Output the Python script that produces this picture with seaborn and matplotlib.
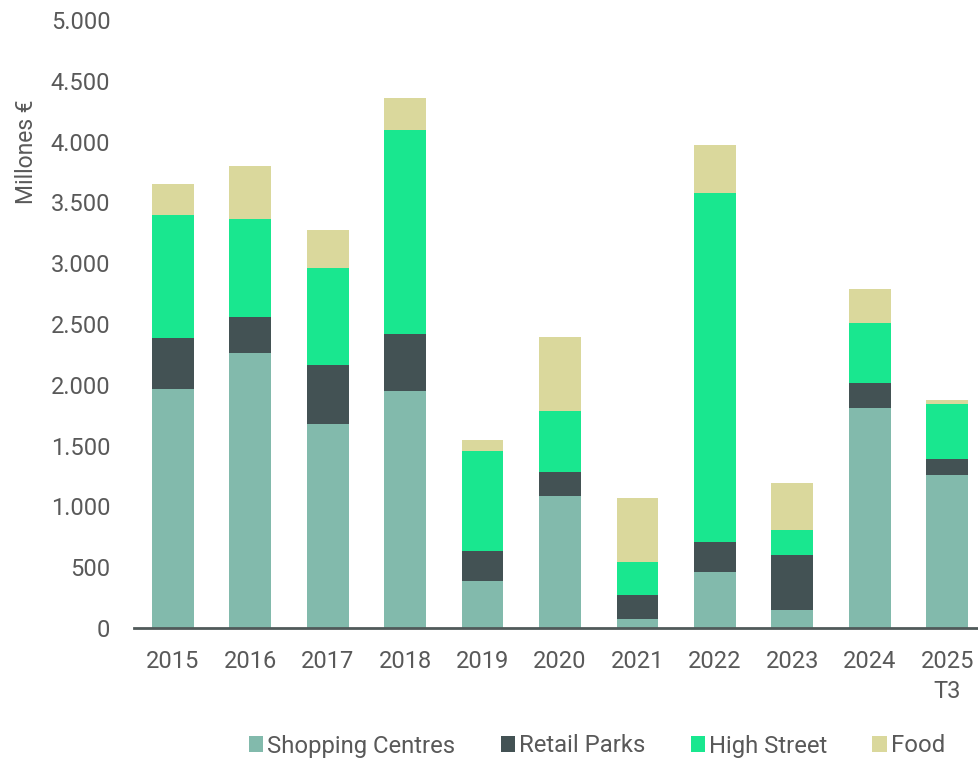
import matplotlib
matplotlib.use("Agg")
import matplotlib.pyplot as plt
from matplotlib.patches import Patch
import seaborn as sns
import pandas as pd
import numpy as np

years = ["2015", "2016", "2017", "2018", "2019", "2020", "2021", "2022", "2023", "2024", "2025\nT3"]
shopping_centres = [1965, 2259, 1678, 1947, 388, 1088, 74, 458, 148, 1807, 1261]
retail_parks = [422, 301, 482, 471, 242, 192, 197, 252, 455, 211, 129]
high_street = [1009, 806, 803, 1680, 823, 503, 273, 2870, 206, 493, 455]
food = [255, 433, 310, 261, 97, 612, 521, 389, 381, 277, 30]
series_names = ["Shopping Centres", "Retail Parks", "High Street", "Food"]
colors = ["#82BAAC", "#435254", "#19E78F", "#DAD89C"]
ytick_values = [0, 500, 1000, 1500, 2000, 2500, 3000, 3500, 4000, 4500, 5000]
ytick_labels = ["0", "500", "1.000", "1.500", "2.000", "2.500", "3.000", "3.500", "4.000", "4.500", "5.000"]

sns.set_theme(style="white")
plt.rcParams["font.family"] = ["Roboto", "DejaVu Sans"]
text_color = "#595959"
fs = 17

df = pd.DataFrame({"year": years, "Shopping Centres": shopping_centres,
                   "Retail Parks": retail_parks, "High Street": high_street, "Food": food})
cum = df[series_names].cumsum(axis=1)

fig = plt.figure(figsize=(9.79, 7.58), dpi=100)
ax = fig.add_axes([134 / 979, 1 - 628 / 758, 1 - 134 / 979, (628 - 20) / 758])

# stacked: draw cumulative totals from the top layer down
for name, col in reversed(list(zip(series_names, colors))):
    sns.barplot(x=df["year"], y=cum[name], order=years, color=col, width=0.54,
                linewidth=0, saturation=1, ax=ax)

ax.set_xlim(-0.5, 10.41)
ax.set_ylim(0, 5000)
ax.set_yticks(ytick_values)
ax.set_yticklabels(ytick_labels)
ax.set_xlabel("")
ax.set_ylabel("")
ax.tick_params(axis="y", length=0, pad=17, labelsize=fs, labelcolor=text_color)
ax.tick_params(axis="x", length=0, pad=15.5, labelsize=fs, labelcolor=text_color)
for lbl in ax.get_xticklabels():
    lbl.set_horizontalalignment("center")
    lbl.set_linespacing(1.4)

for s in ["top", "right", "left"]:
    ax.spines[s].set_visible(False)
ax.spines["bottom"].set_color("#505A5A")
ax.spines["bottom"].set_linewidth(2)
ax.grid(False)

fig.text(27 / 979, 1 - 152 / 758, "Millones €", rotation=90, ha="center", va="center",
         fontsize=16.5, color=text_color)

handles = [Patch(facecolor=c, edgecolor="none", label=n) for n, c in zip(series_names, colors)]
leg = fig.legend(handles=handles, loc="center", bbox_to_anchor=(597 / 979, 1 - 746 / 758), ncol=4,
                 frameon=False, fontsize=17.2, handlelength=0.6, handleheight=0.6,
                 handletextpad=0.16, columnspacing=1.9, borderaxespad=0, borderpad=0)
for t in leg.get_texts():
    t.set_color(text_color)

fig.savefig("out.png", dpi=100)
